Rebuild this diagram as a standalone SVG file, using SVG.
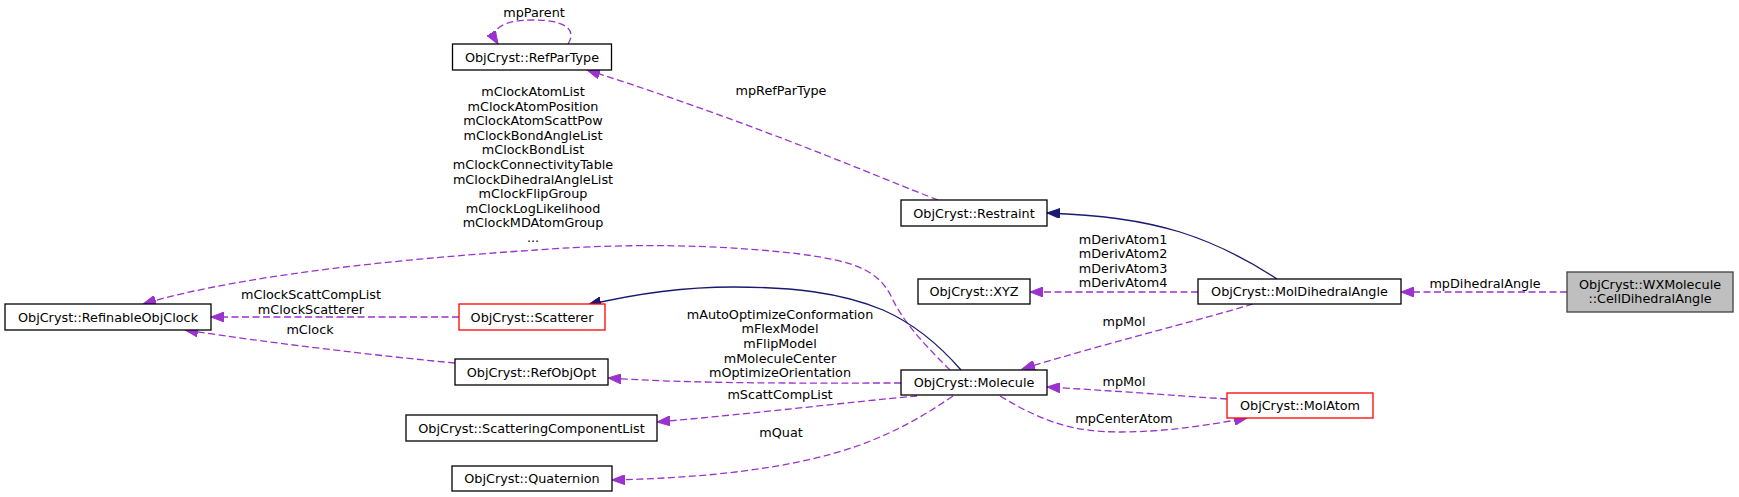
<svg xmlns="http://www.w3.org/2000/svg" width="1739" height="497" viewBox="0 0 1739 497">
<defs>
<style>
text{font-family:"DejaVu Sans","Liberation Sans",sans-serif;font-size:12.8px;fill:#000;text-anchor:middle}
.n{fill:#fff;stroke:#000;stroke-width:1.3}
.r{fill:#fff;stroke:#ff0000;stroke-width:1.3}
.root{fill:#bfbfbf;stroke:#404040;stroke-width:1.3}
.u{fill:none;stroke:#9a32cd;stroke-width:1.3;stroke-dasharray:7,3.5;marker-end:url(#pa)}
.i{fill:none;stroke:#191970;stroke-width:1.3;marker-end:url(#na)}
</style>
<marker id="pa" markerUnits="userSpaceOnUse" markerWidth="14" markerHeight="10" refX="13" refY="5" orient="auto" viewBox="0 0 14 10">
<path d="M0,0 L13,5 L0,10 z" fill="#9a32cd" stroke="#9a32cd" stroke-width="1"/>
</marker>
<marker id="na" markerUnits="userSpaceOnUse" markerWidth="14" markerHeight="10" refX="13" refY="5" orient="auto" viewBox="0 0 14 10">
<path d="M0,0 L13,5 L0,10 z" fill="#191970" stroke="#191970" stroke-width="1"/>
</marker>
</defs>
<rect width="1739" height="497" fill="#fff"/>
<g id="connectors">
<path class="u" d="M568,44 C578,28 562,20 534,20 C504,20 488,28 498,44"/>
<text x="534" y="16.5">mpParent</text>
<path class="u" d="M938,200 C880,178 760,125 587,70"/>
<text x="781" y="95">mpRefParType</text>
<path class="u" d="M950,370 C930,350 905,325 893,300 C880,272 860,262 800,254 C700,242 600,245 536,250 C430,257 250,272 143,304"/>
<text x="533" y="96">mClockAtomList</text>
<text x="533" y="110.6">mClockAtomPosition</text>
<text x="533" y="125.2">mClockAtomScattPow</text>
<text x="533" y="139.8">mClockBondAngleList</text>
<text x="533" y="154.4">mClockBondList</text>
<text x="533" y="169">mClockConnectivityTable</text>
<text x="533" y="183.6">mClockDihedralAngleList</text>
<text x="533" y="198.2">mClockFlipGroup</text>
<text x="533" y="212.8">mClockLogLikelihood</text>
<text x="533" y="227.4">mClockMDAtomGroup</text>
<text x="533" y="242">...</text>
<path class="i" d="M961,370 C935,340 910,322 883,310 C840,292 790,287 733,287 C680,287 630,295 588,305"/>
<path class="u" d="M459,317 L211,317"/>
<text x="311" y="298.5">mClockScattCompList</text>
<text x="311" y="313.5">mClockScatterer</text>
<path class="u" d="M455,363 C380,356 270,343 185,330"/>
<text x="310" y="333.5">mClock</text>
<path class="u" d="M901,383 C800,383 700,384 608,378"/>
<text x="780" y="318.8">mAutoOptimizeConformation</text>
<text x="780" y="333.4">mFlexModel</text>
<text x="780" y="348">mFlipModel</text>
<text x="780" y="362.6">mMoleculeCenter</text>
<text x="780" y="377.2">mOptimizeOrientation</text>
<path class="u" d="M917,396 C850,402 750,414 657,422"/>
<text x="780" y="398.5">mScattCompList</text>
<path class="u" d="M953,396 C925,415 900,430 860,445 C790,470 700,478 612,480"/>
<text x="781" y="436.5">mQuat</text>
<path class="i" d="M1277,279 C1245,258 1215,243 1180,232 C1140,220 1100,215 1047,213"/>
<path class="u" d="M1198,292 L1030,292"/>
<text x="1123" y="243.5">mDerivAtom1</text>
<text x="1123" y="258.1">mDerivAtom2</text>
<text x="1123" y="272.7">mDerivAtom3</text>
<text x="1123" y="287.3">mDerivAtom4</text>
<path class="u" d="M1253,304 C1200,320 1100,345 1022,369"/>
<text x="1124" y="325.5">mpMol</text>
<path class="u" d="M1227,399 C1170,395 1100,390 1047,387"/>
<text x="1124" y="385.5">mpMol</text>
<path class="u" d="M1000,396 C1040,420 1070,432 1120,432 C1165,432 1210,425 1247,418"/>
<text x="1124" y="422.5">mpCenterAtom</text>
<path class="u" d="M1567,292 L1401,292"/>
<text x="1485" y="287.5">mpDihedralAngle</text>
</g>
<g id="node-RefParType"><rect class="n" x="452.5" y="44" width="159" height="26"/><text x="532" y="61.5">ObjCryst::RefParType</text></g>
<g id="node-Restraint"><rect class="n" x="901" y="200" width="146" height="26"/><text x="974" y="217.5">ObjCryst::Restraint</text></g>
<g id="node-RefinableObjClock"><rect class="n" x="5" y="304" width="206" height="26"/><text x="108" y="321.5">ObjCryst::RefinableObjClock</text></g>
<g id="node-Scatterer"><rect class="r" x="459" y="304" width="146" height="26"/><text x="532" y="321.5">ObjCryst::Scatterer</text></g>
<g id="node-RefObjOpt"><rect class="n" x="455" y="359" width="153" height="26"/><text x="531.5" y="376.5">ObjCryst::RefObjOpt</text></g>
<g id="node-ScatteringComponentList"><rect class="n" x="406" y="415" width="251" height="26"/><text x="531.5" y="432.5">ObjCryst::ScatteringComponentList</text></g>
<g id="node-Quaternion"><rect class="n" x="452" y="466" width="160" height="25"/><text x="532" y="483">ObjCryst::Quaternion</text></g>
<g id="node-Molecule"><rect class="n" x="901" y="370" width="146" height="25"/><text x="974" y="387">ObjCryst::Molecule</text></g>
<g id="node-XYZ"><rect class="n" x="918" y="279" width="112" height="25"/><text x="974" y="296">ObjCryst::XYZ</text></g>
<g id="node-MolDihedralAngle"><rect class="n" x="1198" y="279" width="203" height="25"/><text x="1299.5" y="296">ObjCryst::MolDihedralAngle</text></g>
<g id="node-MolAtom"><rect class="r" x="1227" y="393" width="146" height="25"/><text x="1300" y="410">ObjCryst::MolAtom</text></g>
<g id="node-CellDihedralAngle"><rect class="root" x="1567" y="272" width="166" height="40"/><text x="1650" y="288.5">ObjCryst::WXMolecule</text><text x="1650" y="302.5">::CellDihedralAngle</text></g>
</svg>
